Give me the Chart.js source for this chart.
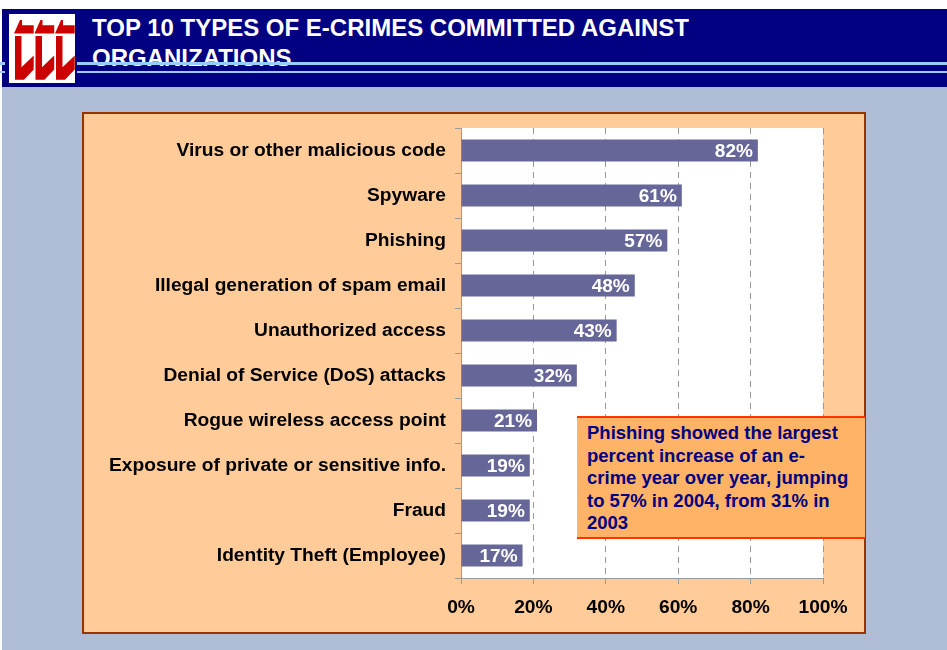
<!DOCTYPE html>
<html>
<head>
<meta charset="utf-8">
<title>Top 10 types of e-crimes committed against organizations</title>
<script src="https://cdn.jsdelivr.net/npm/chart.js@4.4.1/dist/chart.umd.min.js"></script>
<style>
  html, body { margin: 0; padding: 0; background: #fff; }
  body { width: 947px; height: 650px; position: relative; overflow: hidden;
         font-family: "Liberation Sans", Arial, sans-serif; }
  #slide { position: absolute; left: 2px; top: 9px; width: 945px; height: 641px; background: #AFBED6; }
  #header { position: absolute; left: 2px; top: 9px; width: 945px; height: 78px; background: #000080; }
  .title { position: absolute; left: 92px; color: #fff; font-weight: bold; font-size: 24px;
           line-height: 24px; white-space: nowrap; }
  .rule { position: absolute; background: #99CCFF; }
  #logo { position: absolute; left: 9px; top: 14px; }
  #panel { position: absolute; left: 82px; top: 112px; width: 784px; height: 522px;
           box-sizing: border-box; border: 2px solid #993300; background: #FFCC99; }
  #chart { position: absolute; left: 84px; top: 114px; }
  #note { position: absolute; left: 577px; top: 416px; width: 288px; height: 123px;
          box-sizing: border-box; background: #FFB366;
          border-top: 2px solid #FF3300; border-bottom: 2px solid #FF3300;
          padding: 4px 0 0 10px; color: #000080; font-weight: bold; font-size: 18.5px;
          line-height: 22.5px; white-space: nowrap; }
</style>
</head>
<body>
<div id="slide"></div>
<div id="header"></div>
<div class="title" style="top:16px">TOP 10 TYPES OF E-CRIMES COMMITTED AGAINST</div>
<div class="title" style="top:46px">ORGANIZATIONS</div>
<div class="rule" style="left:0;top:62px;width:5px;height:3px"></div>
<div class="rule" style="left:0;top:71px;width:5px;height:2px"></div>
<div class="rule" style="left:77px;top:62px;width:870px;height:3px"></div>
<div class="rule" style="left:77px;top:71px;width:870px;height:2px"></div>
<svg id="logo" width="66" height="69" viewBox="0 0 66 69">
  <rect width="66" height="69" fill="#fff"/>
  <g transform="translate(0,-3.4) scale(1,1.18)">
    <g id="glyph" fill="#CC0000">
      <path d="M5 19.5 L11 8 L13 8 L13 12.5 L24.7 12.5 L24.7 19.5 Z"/>
      <path d="M6 21.5 L12.5 21.5 L12.5 48 L24.7 38 L24.7 50 L15 58.5 L6 58.5 Z"/>
    </g>
    <use href="#glyph" x="20.5"/>
    <use href="#glyph" x="41"/>
  </g>
</svg>
<div id="panel"></div>
<canvas id="chart" width="780" height="518"></canvas>
<div id="note"></div>

<script>
// e-crime types, top to bottom
const categories = [
  'Virus or other malicious code',
  'Spyware',
  'Phishing',
  'Illegal generation of spam email',
  'Unauthorized access',
  'Denial of Service (DoS) attacks',
  'Rogue wireless access point',
  'Exposure of private or sensitive info.',
  'Fraud',
  'Identity Theft (Employee)'
];
// share of organizations reporting each crime, %
const shares = [82, 61, 57, 48, 43, 32, 21, 19, 19, 17];
// x axis range and tick step, %
const axisMax = 100;
const axisStep = 20;

const noteLines = [
  'Phishing showed the largest',
  'percent increase of an e-',
  'crime year over year, jumping',
  'to 57% in 2004, from 31% in',
  '2003'
];
document.getElementById('note').innerHTML = noteLines.join('<br>');

const boldFont = { family: '"Liberation Sans", Arial, sans-serif', size: 19.2, weight: 'bold' };

// white plot background
const plotBackground = {
  id: 'plotBackground',
  beforeDraw(chart) {
    const { ctx, chartArea: a } = chart;
    ctx.save();
    ctx.fillStyle = '#fff';
    ctx.fillRect(a.left, a.top, a.width, a.height);
    ctx.restore();
  }
};

// percentage printed inside the end of each bar
const valueLabels = {
  id: 'valueLabels',
  afterDatasetsDraw(chart) {
    const { ctx } = chart;
    const meta = chart.getDatasetMeta(0);
    ctx.save();
    ctx.font = 'bold 19px "Liberation Sans", Arial, sans-serif';
    ctx.fillStyle = '#fff';
    ctx.textAlign = 'right';
    ctx.textBaseline = 'middle';
    meta.data.forEach((bar, i) => {
      ctx.fillText(shares[i] + '%', bar.x - 5, bar.y + 1);
    });
    ctx.restore();
  }
};

const config = {
  type: 'bar',
  data: {
    labels: categories,
    datasets: [{
      data: shares,
      backgroundColor: '#666699',
      borderWidth: 0,
      barPercentage: 0.49,
      categoryPercentage: 1
    }]
  },
  options: {
    indexAxis: 'y',
    responsive: false,
    animation: false,
    devicePixelRatio: 1,
    layout: { padding: { top: 14, right: 41, left: 0, bottom: 0 } },
    plugins: {
      legend: { display: false },
      tooltip: { enabled: false }
    },
    scales: {
      x: {
        min: 0,
        max: axisMax,
        ticks: {
          stepSize: axisStep,
          callback: v => v + '%',
          color: '#000',
          font: boldFont,
          padding: 12
        },
        grid: { color: '#999', tickLength: 6 },
        border: { color: '#999', dash: [6, 5] },
        afterFit(scale) { scale.height = 54; }
      },
      y: {
        ticks: { color: '#000', font: boldFont, padding: 9 },
        grid: { drawOnChartArea: false, color: '#999', tickLength: 6 },
        border: { color: '#999' },
        afterFit(scale) {
          scale.width = 377;
          // labels sit mid-category, so no extra room needed above/below
          scale.paddingTop = 0;
          scale.paddingBottom = 0;
        }
      }
    }
  },
  plugins: [plotBackground, valueLabels]
};

const crimesChart = new Chart(document.getElementById('chart'), config);
</script>
</body>
</html>
